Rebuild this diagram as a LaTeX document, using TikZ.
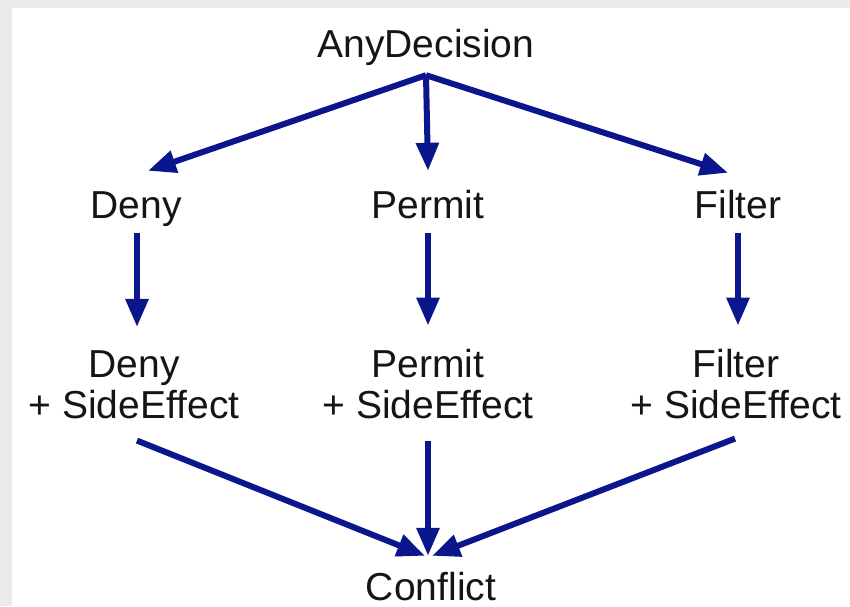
\documentclass[tikz,border=0pt]{standalone}
\usepackage{fontspec}
\setmainfont{Liberation Sans}
\usetikzlibrary{arrows.meta}
\definecolor{arrowblue}{RGB}{12,22,140}
\definecolor{txt}{RGB}{20,20,25}
\definecolor{bggray}{RGB}{235,235,235}
\begin{document}
\begin{tikzpicture}[x=1pt,y=-1pt,
  lbl/.style={font=\fontsize{39}{41}\selectfont, text=txt, inner sep=0pt, text height=27pt, text depth=0pt, anchor=base},
  lbl2/.style={font=\fontsize{39}{41}\selectfont, text=txt, inner sep=0pt, align=center, anchor=base},
  arr/.style={draw=arrowblue, line width=6pt, -{Triangle[length=28pt,width=22pt]}}]
\useasboundingbox (0,0) rectangle (850,606);
\fill[bggray] (0,0) rectangle (850,606);
\fill[white] (12,8) rectangle (850,606);
% nodes
\node[lbl] (any) at (426,57) {AnyDecision};
\node[lbl] (deny) at (136,218) {Deny};
\node[lbl] (permit) at (428,218) {Permit};
\node[lbl] (filter) at (738,218) {Filter};
\node[lbl2] (deny2) at (134,418) {Deny\\+ SideEffect};
\node[lbl2] (permit2) at (428,418) {Permit\\+ SideEffect};
\node[lbl2] (filter2) at (736,418) {Filter\\+ SideEffect};
\node[lbl] (conflict) at (431,600) {Conflict};
% arrows
\draw[arr] ([shift={(0,18)}]any.south) -- ([shift={(12,-20)}]deny.north);
\draw[arr] ([shift={(0,18)}]any.south) -- ([shift={(0,-20)}]permit.north);
\draw[arr] ([shift={(0,18)}]any.south) -- ([shift={(-10,-18)}]filter.north);
\draw[arr] ([shift={(1,15)}]deny.south) -- ([shift={(3,-23)}]deny2.north);
\draw[arr] ([shift={(0,15)}]permit.south) -- ([shift={(0,-23)}]permit2.north);
\draw[arr] ([shift={(0,15)}]filter.south) -- ([shift={(2,-23)}]filter2.north);
\draw[arr] ([shift={(3,22)}]deny2.south) -- ([shift={(-6,-17)}]conflict.north);
\draw[arr] ([shift={(0,22)}]permit2.south) -- ([shift={(-3,-17)}]conflict.north);
\draw[arr] ([shift={(-1,20)}]filter2.south) -- ([shift={(1,-17)}]conflict.north);
\end{tikzpicture}
\end{document}
